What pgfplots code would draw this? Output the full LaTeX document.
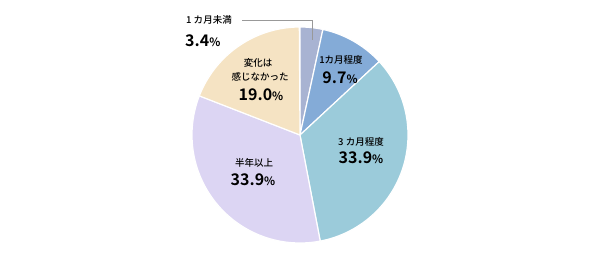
\documentclass[border=0pt]{standalone}
\usepackage{pgfplots}
\usepackage{pgfplotstable}
\pgfplotsset{compat=1.18}
\usepackage{fontspec}
\setmainfont{Noto Sans CJK JP}
\newfontfamily\jpm{Noto Sans CJK JP Medium}
\newfontfamily\jpb{Noto Sans CJK JP}[BoldFont={* Bold}]
\definecolor{c1}{HTML}{A8B3D2}
\definecolor{c2}{HTML}{84ABD7}
\definecolor{c3}{HTML}{9BCBDA}
\definecolor{c4}{HTML}{DCD5F3}
\definecolor{c5}{HTML}{F5E3C3}
\pgfplotstableread{
idx value
0 3.4
1 9.7
2 33.9
3 33.9
4 19.0
}\piedata
\newcommand{\getval}[2]{\pgfplotstablegetelem{#1}{value}\of\piedata\let#2\pgfplotsretval}%
\getval{0}{\va}\getval{1}{\vb}\getval{2}{\vc}\getval{3}{\vd}\getval{4}{\ve}%
\pgfmathsetmacro{\aA}{90}%
\pgfmathsetmacro{\aB}{\aA-3.6*\va}%
\pgfmathsetmacro{\aC}{\aB-3.6*\vb}%
\pgfmathsetmacro{\aD}{\aC-3.6*\vc}%
\pgfmathsetmacro{\aE}{\aD-3.6*\vd}%
\pgfmathsetmacro{\aF}{\aE-3.6*\ve}%
\tikzset{lab/.style={inner sep=0, font=\jpm\fontsize{9.5}{10}\selectfont},
         pct/.style={inner sep=0, font=\jpb\bfseries\fontsize{16}{17}\selectfont}}
\newcommand{\pc}{{\fontsize{11.5}{12}\selectfont\%}}
\begin{document}%
\begin{tikzpicture}
\begin{axis}[
  width=600pt, height=263pt, scale only axis,
  xmin=0, xmax=600, ymin=0, ymax=263,
  hide axis, clip=false,
  every axis plot/.append style={draw=white, line width=1.2pt, samples=60, variable=\t, line join=round},
]
\addplot[fill=c1, domain=\aB:\aA] ({300+108*cos(\t)},{128+108*sin(\t)}) -- (axis cs:300,128) -- cycle;
\addplot[fill=c2, domain=\aC:\aB] ({300+108*cos(\t)},{128+108*sin(\t)}) -- (axis cs:300,128) -- cycle;
\addplot[fill=c3, domain=\aD:\aC] ({300+108*cos(\t)},{128+108*sin(\t)}) -- (axis cs:300,128) -- cycle;
\addplot[fill=c4, domain=\aE:\aD] ({300+108*cos(\t)},{128+108*sin(\t)}) -- (axis cs:300,128) -- cycle;
\addplot[fill=c5, domain=\aF:\aE] ({300+108*cos(\t)},{128+108*sin(\t)}) -- (axis cs:300,128) -- cycle;
\draw[gray!80, line width=0.8pt] (axis cs:242,243) -- (axis cs:312,243) -- (axis cs:312,223);
\path (axis cs:0,0) (axis cs:600,263);
\node[lab, anchor=west] at (axis cs:186,243) {1 カ月未満};
\node[pct, anchor=west] at (axis cs:185,222) {3.4\pc};
\node[lab] at (axis cs:341,203) {1カ月程度};
\node[pct] at (axis cs:340,185) {9.7\pc};
\node[lab] at (axis cs:361,121) {3 カ月程度};
\node[pct] at (axis cs:361,105) {33.9\pc};
\node[lab] at (axis cs:254,100) {半年以上};
\node[pct] at (axis cs:253,83) {33.9\pc};
\node[lab] at (axis cs:258,200) {変化は};
\node[lab] at (axis cs:260,186) {感じなかった};
\node[pct] at (axis cs:261,168) {19.0\pc};
\end{axis}
\end{tikzpicture}%
\end{document}
